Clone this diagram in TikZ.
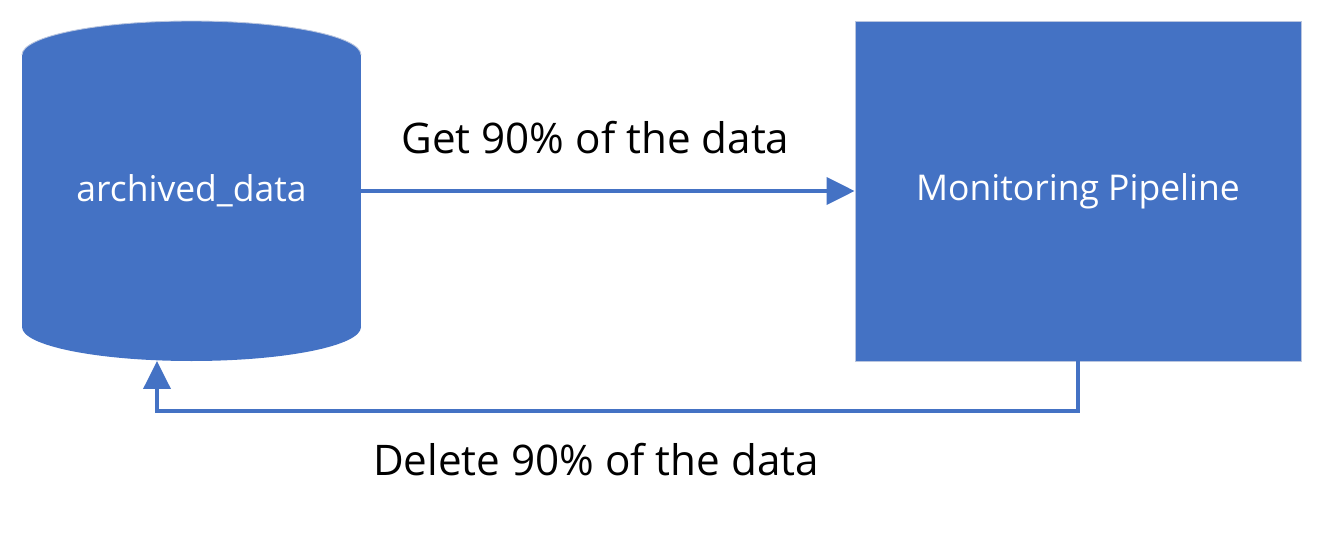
\documentclass[tikz,border=0pt]{standalone}
\usepackage{fontspec}
\setmainfont{Open Sans}
\usetikzlibrary{arrows.meta,positioning}
\definecolor{boxblue}{HTML}{4472C4}
\definecolor{edgegrey}{HTML}{B9C5DF}
\tikzset{
  flow/.style={draw=boxblue,line width=0.075cm,-{Triangle[length=0.56cm,width=0.54cm]}},
  lbl/.style={anchor=base,font=\fontsize{24}{29}\selectfont},
  boxtext/.style={text=white,font=\fontsize{20.2}{24}\selectfont}
}

\begin{document}
\begin{tikzpicture}[x=0.02cm,y=-0.02cm]
\useasboundingbox (0,0) rectangle (1330,534);
% the store drawn as a cylinder
\fill[boxblue] (22,55) rectangle (361,327);
\fill[boxblue] (191.5,327) ellipse [x radius=169.5,y radius=34];
\fill[boxblue] (191.5,55) ellipse [x radius=169.5,y radius=34];
\draw[edgegrey,line width=0.5pt] (22,55) arc[start angle=180,end angle=360,x radius=169.5,y radius=34];
\node (arch) [boxtext,minimum width=6.78cm,minimum height=6.8cm] at (191.5,191) {archived\_data};
\node (pipe) [boxtext,fill=boxblue,draw=edgegrey,line width=0.5pt,minimum width=8.92cm,minimum height=6.8cm] at (1078,191) {Monitoring Pipeline};
%
\coordinate (turn) at (157,411);
\coordinate (arch-in) at (157,361);
%
\draw[flow] (arch.east) -- (pipe.west);
\draw[flow] (pipe.south) |- (turn) -- (arch-in);
%
\node (getlbl) [lbl] at (595.5,153) {Get 90\% of the data};
\node (dellbl) [lbl] at (596,475) {Delete 90\% of the data};
\end{tikzpicture}
\end{document}
